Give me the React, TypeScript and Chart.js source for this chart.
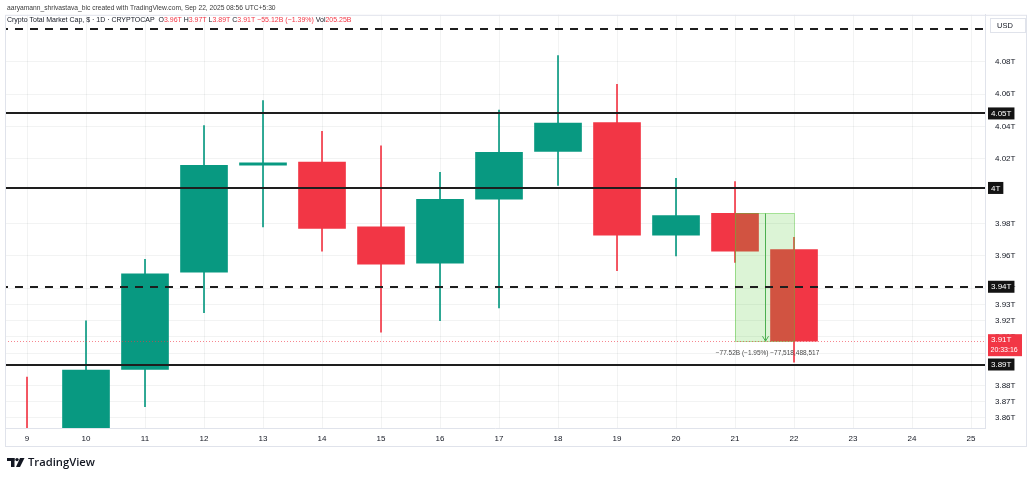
import React, { useEffect, useRef } from 'react';
import { Chart, registerables } from 'chart.js';

Chart.register(...registerables);

// ---- data ----
const days = [9, 10, 11, 12, 13, 14, 15, 16, 17, 18, 19, 20, 21, 22];
const opens = [3.85, 3.84, 3.89, 3.95, 4.016, 4.018, 3.978, 3.9555, 3.995, 4.0245, 4.0424, 3.9728, 3.9863, 3.964];
const highs = [3.8853, 3.92, 3.958, 4.0405, 4.056, 4.037, 4.028, 4.0116, 4.05, 4.0837, 4.066, 4.008, 4.006, 3.9715];
const lows = [3.82, 3.82, 3.867, 3.925, 3.978, 3.963, 3.913, 3.92, 3.928, 4.0036, 3.951, 3.96, 3.956, 3.8945];
const closes = [3.84, 3.8896, 3.949, 4.016, 4.0175, 3.977, 3.955, 3.995, 4.024, 4.042, 3.9728, 3.985, 3.963, 3.9074];

const xTickValues = [9, 10, 11, 12, 13, 14, 15, 16, 17, 18, 19, 20, 21, 22, 23, 24, 25];
const yTickValues = [4.08, 4.06, 4.04, 4.02, 3.98, 3.96, 3.94, 3.93, 3.92, 3.91, 3.9, 3.88, 3.87, 3.86];

const levelValues = [4.1, 4.048, 4.002, 3.941, 3.893];
const levelLabels = ['', '4.05T', '4T', '3.94T', '3.89T'];
const levelKinds = ['dashed', 'solid', 'solid', 'dashed', 'solid'];

const lastPrice = 3.9074;
const lastPriceLabel = '3.91T';
const countdownLabel = '20:33:16';

const rangeStartDay = 21;
const rangeEndDay = 22;
const rangeTop = 3.9863;
const rangeBottom = 3.9074;
const rangeText = '\u221277.52B (\u22121.95%) \u221277,518,488,517';

const headerLine1 = 'aaryamann_shrivastava_bic created with TradingView.com, Sep 22, 2025 08:56 UTC+5:30';
const symbolTitle = 'Crypto Total Market Cap, $ \u00b7 1D \u00b7 CRYPTOCAP';
const ohlcKeys = ['O', 'H', 'L', 'C'];
const ohlcValues = ['3.96T', '3.97T', '3.89T', '3.91T'];
const changeText = '\u221255.12B (\u22121.39%)';
const volKey = 'Vol';
const volValue = '205.25B';
const currencyLabel = 'USD';
const brandName = 'TradingView';

// ---- styles ----
const UP = '#089981';
const DOWN = '#F23645';
const INK = '#131722';
const FRAME = '#e0e3eb';
const GRID = 'rgba(42,46,57,0.06)';
const FONT = '"Liberation Sans", Arial, sans-serif';

const candleColors = days.map((_, i) => (closes[i] >= opens[i] ? UP : DOWN));

function fmtT(v: number) {
  return String(Number(v.toFixed(2))) + 'T';
}

function fitSize(ctx: CanvasRenderingContext2D, text: string, target: number, weight: string, family: string) {
  ctx.font = `${weight} 10px ${family}`;
  const w = ctx.measureText(text).width;
  return (10 * target) / w;
}

const overlayPlugin = {
  id: 'tvOverlay',
  beforeDraw(chart: any) {
    const ctx = chart.ctx;
    ctx.save();
    ctx.fillStyle = '#ffffff';
    ctx.fillRect(0, 0, chart.width, chart.height);
    ctx.restore();
  },
  afterDatasetsDraw(chart: any) {
    const ctx: CanvasRenderingContext2D = chart.ctx;
    const { left, right, top, bottom } = chart.chartArea;
    const xs = chart.scales.x;
    const ys = chart.scales.y;
    ctx.save();
    ctx.beginPath();
    ctx.rect(left, top, right - left, bottom - top);
    ctx.clip();

    // measurement range box
    const bx1 = xs.getPixelForValue(rangeStartDay);
    const bx2 = xs.getPixelForValue(rangeEndDay);
    const by1 = ys.getPixelForValue(rangeTop);
    const by2 = ys.getPixelForValue(rangeBottom);
    ctx.fillStyle = 'rgba(80,200,50,0.2)';
    ctx.fillRect(bx1, by1, bx2 - bx1, by2 - by1);
    ctx.strokeStyle = 'rgba(80,200,50,0.45)';
    ctx.lineWidth = 1;
    ctx.strokeRect(Math.round(bx1) + 0.5, Math.round(by1) + 0.5, Math.round(bx2 - bx1), Math.round(by2 - by1));
    const ax = Math.round(xs.getPixelForValue((rangeStartDay + rangeEndDay) / 2)) + 0.5;
    ctx.strokeStyle = '#4caf50';
    ctx.beginPath();
    ctx.moveTo(ax, by1);
    ctx.lineTo(ax, by2);
    ctx.moveTo(ax - 3, by2 - 5);
    ctx.lineTo(ax, by2);
    ctx.lineTo(ax + 3, by2 - 5);
    ctx.stroke();
    ctx.fillStyle = '#4a4a4a';
    ctx.font = `6.5px ${FONT}`;
    ctx.textAlign = 'center';
    ctx.textBaseline = 'middle';
    ctx.fillText(rangeText, ax + 2, by2 + 12);

    // last price dotted line
    const lp = Math.round(ys.getPixelForValue(lastPrice)) + 0.5;
    ctx.strokeStyle = 'rgba(242,54,69,0.6)';
    ctx.setLineDash([1, 2]);
    ctx.beginPath();
    ctx.moveTo(left, lp);
    ctx.lineTo(right, lp);
    ctx.stroke();
    ctx.setLineDash([]);

    // horizontal levels
    levelValues.forEach((v, i) => {
      const y = Math.round(ys.getPixelForValue(v));
      ctx.strokeStyle = '#1e1e1e';
      ctx.lineWidth = 2;
      ctx.setLineDash(levelKinds[i] === 'dashed' ? [8, 7] : []);
      ctx.beginPath();
      ctx.moveTo(0, y);
      ctx.lineTo(right, y);
      ctx.stroke();
    });
    ctx.setLineDash([]);
    ctx.restore();
  },
  afterDraw(chart: any) {
    const ctx: CanvasRenderingContext2D = chart.ctx;
    const { left, top } = chart.chartArea;
    const ys = chart.scales.y;
    ctx.save();

    // frame
    ctx.strokeStyle = FRAME;
    ctx.lineWidth = 1;
    ctx.strokeRect(left + 0.5, top + 0.5, 1026 - left, 446 - top);

    // header line 1
    ctx.textBaseline = 'middle';
    ctx.textAlign = 'left';
    let fs = fitSize(ctx, headerLine1, 269, '', FONT);
    ctx.font = `${fs}px ${FONT}`;
    ctx.fillStyle = '#3a3a3a';
    ctx.fillText(headerLine1, 7, 8);

    // header line 2
    const segs: [string, string][] = [
      [symbolTitle + '  ', INK],
      [ohlcKeys[0], INK], [ohlcValues[0] + ' ', DOWN],
      [ohlcKeys[1], INK], [ohlcValues[1] + ' ', DOWN],
      [ohlcKeys[2], INK], [ohlcValues[2] + ' ', DOWN],
      [ohlcKeys[3], INK], [ohlcValues[3] + ' ', DOWN],
      [changeText + ' ', DOWN],
      [volKey, INK], [volValue, DOWN],
    ];
    const full = segs.map((s) => s[0]).join('');
    fs = fitSize(ctx, full, 345, '', FONT);
    ctx.font = `${fs}px ${FONT}`;
    let cx = 7;
    segs.forEach(([t, c]) => {
      ctx.fillStyle = c;
      ctx.fillText(t, cx, 20);
      cx += ctx.measureText(t).width;
    });

    // USD box
    ctx.fillStyle = '#ffffff';
    ctx.fillRect(990.5, 18.5, 35, 14);
    ctx.strokeStyle = FRAME;
    ctx.strokeRect(990.5, 18.5, 35, 14);
    ctx.fillStyle = INK;
    ctx.font = `7.5px ${FONT}`;
    ctx.fillText(currencyLabel, 997, 26);

    // level labels on price axis
    ctx.font = `8px ${FONT}`;
    levelValues.forEach((v, i) => {
      const lbl = levelLabels[i];
      if (!lbl) return;
      const y = ys.getPixelForValue(v);
      const w = ctx.measureText(lbl).width + 6;
      ctx.fillStyle = '#131313';
      ctx.fillRect(988, y - 6, w, 12);
      ctx.fillStyle = '#ffffff';
      ctx.fillText(lbl, 991, y + 0.5);
    });

    // last price label
    const ly = ys.getPixelForValue(lastPrice);
    ctx.fillStyle = DOWN;
    ctx.fillRect(988, ly - 7, 34, 22);
    ctx.fillStyle = '#ffffff';
    ctx.font = `8px ${FONT}`;
    ctx.fillText(lastPriceLabel, 991, ly - 1);
    ctx.font = `7px ${FONT}`;
    ctx.fillText(countdownLabel, 990.5, ly + 9);

    // logo
    ctx.fillStyle = '#131722';
    ctx.fillRect(7, 458, 7.5, 3);
    ctx.fillRect(11, 458, 3.5, 9);
    ctx.beginPath();
    ctx.arc(17, 459.6, 1.7, 0, Math.PI * 2);
    ctx.fill();
    ctx.beginPath();
    ctx.moveTo(20, 458);
    ctx.lineTo(24.5, 458);
    ctx.lineTo(20, 467);
    ctx.lineTo(16, 467);
    ctx.closePath();
    ctx.fill();
    fs = fitSize(ctx, brandName, 67, '600', '"Open Sans", ' + FONT);
    ctx.font = `600 ${fs}px "Open Sans", ${FONT}`;
    ctx.fillText(brandName, 28, 463);

    ctx.restore();
  },
};

export default function App() {
  const ref = useRef<HTMLCanvasElement>(null);
  useEffect(() => {
    if (!ref.current) return;
    const chart = new Chart(ref.current, {
      type: 'bar',
      data: {
        datasets: [
          {
            label: 'body',
            data: days.map((d, i) => ({ x: d, y: [opens[i], closes[i]] })) as any,
            backgroundColor: candleColors,
            barThickness: 47,
            grouped: false,
            clip: 0 as any,
            borderWidth: 0,
          },
          {
            label: 'wick',
            data: days.map((d, i) => ({ x: d, y: [lows[i], highs[i]] })) as any,
            backgroundColor: candleColors,
            barThickness: 1,
            grouped: false,
            clip: 0 as any,
            borderWidth: 0,
          },
        ],
      },
      options: {
        responsive: false,
        animation: false,
        devicePixelRatio: 1,
        layout: { padding: { left: 5, right: 5, top: 14, bottom: 34 } },
        plugins: { legend: { display: false }, tooltip: { enabled: false } },
        scales: {
          x: {
            type: 'linear',
            min: 8.627,
            max: 25.237,
            offset: false,
            grid: { color: GRID, offset: false, drawTicks: false },
            border: { color: FRAME },
            afterBuildTicks: (s: any) => {
              s.ticks = xTickValues.map((v) => ({ value: v }));
            },
            ticks: {
              color: INK,
              font: { size: 8, family: FONT },
              padding: 6,
              maxRotation: 0,
              autoSkip: false,
              callback: (v: any) => String(v),
            },
            afterFit: (s: any) => {
              s.height = 18;
            },
          },
          y: {
            type: 'linear',
            position: 'right',
            min: 3.8538,
            max: 4.1089,
            grid: { color: GRID, drawTicks: false },
            border: { color: FRAME },
            afterBuildTicks: (s: any) => {
              s.ticks = yTickValues.map((v) => ({ value: v }));
            },
            ticks: {
              color: INK,
              font: { size: 8, family: FONT },
              padding: 10,
              autoSkip: false,
              callback: (v: any) => fmtT(Number(v)),
            },
            afterFit: (s: any) => {
              s.width = 42;
            },
          },
        },
      } as any,
      plugins: [overlayPlugin],
    });
    return () => chart.destroy();
  }, []);
  return (
    <div style={{ position: 'fixed', left: 0, top: 0, width: 1032, height: 480, background: '#fff' }}>
      <canvas ref={ref} width={1032} height={480} style={{ display: 'block', width: 1032, height: 480 }} />
    </div>
  );
}
